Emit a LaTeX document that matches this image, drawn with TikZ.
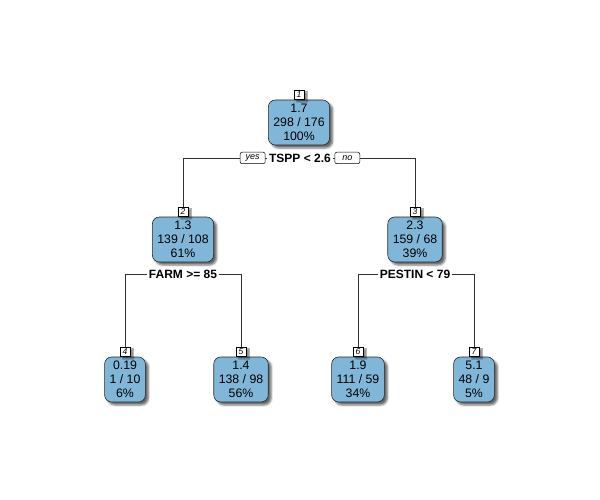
\documentclass[tikz,border=0pt]{standalone}
\usepackage{fontspec}
\setmainfont{Liberation Sans}
\usetikzlibrary{shadows.blur}
\definecolor{leafblue}{RGB}{128,183,217}
\tikzset{
  treenode/.style={draw=black!85, line width=0.6pt, fill=leafblue, rounded corners=7pt,
    minimum height=45pt, inner xsep=5pt, inner ysep=3pt, align=center,
    font=\fontsize{12.3}{13.8}\selectfont,
    blur shadow={shadow xshift=3pt, shadow yshift=-3pt, shadow blur radius=2pt, shadow opacity=60}},
  numbox/.style={draw=black, line width=0.5pt, fill=white, inner sep=0pt, minimum width=10.5pt,
    minimum height=9.5pt, font=\fontsize{8.5}{8.5}\itshape\selectfont, anchor=south,
    blur shadow={shadow xshift=3pt, shadow yshift=-2pt, shadow blur radius=1pt, shadow opacity=45}},
  splitlabel/.style={inner xsep=1.5pt, inner ysep=0pt, font=\fontsize{12}{12}\bfseries\selectfont},
  yesno/.style={draw=black, line width=0.5pt, fill=white, rounded corners=2pt, inner sep=0pt,
    minimum width=25pt, minimum height=11.5pt, font=\fontsize{9}{9}\itshape\selectfont},
  conn/.style={draw=black!80, line width=0.6pt}
}
\begin{document}
\begin{tikzpicture}[x=1pt,y=-1pt]
\useasboundingbox (0,0) rectangle (600,500);
% nodes
\node[treenode] (n1) at (299,122.5) {1.7\\298 / 176\\100\%};
\node[treenode] (n2) at (183,239.5) {1.3\\139 / 108\\61\%};
\node[treenode] (n3) at (415,239.5) {2.3\\159 / 68\\39\%};
\node[treenode] (n4) at (125,379.5) {0.19\\1 / 10\\6\%};
\node[treenode] (n5) at (241,379.5) {1.4\\138 / 98\\56\%};
\node[treenode] (n6) at (358,379.5) {1.9\\111 / 59\\34\%};
\node[treenode] (n7) at (474,379.5) {5.1\\48 / 9\\5\%};
% number boxes
\node[numbox] (l1) at (n1.north) {1};
\node[numbox] (l2) at (n2.north) {2};
\node[numbox] (l3) at (n3.north) {3};
\node[numbox] (l4) at (n4.north) {4};
\node[numbox] (l5) at (n5.north) {5};
\node[numbox] (l6) at (n6.north) {6};
\node[numbox] (l7) at (n7.north) {7};
% split labels
\node[splitlabel] (s1) at (300,158) {TSPP < 2.6};
\node[yesno, anchor=east] (yes) at ([xshift=-2pt]s1.west) {yes};
\node[yesno, anchor=west] (no) at ([xshift=2pt]s1.east) {no};
\node[splitlabel] (s2) at (183,274) {FARM >= 85};
\node[splitlabel] (s3) at (415,274) {PESTIN < 79};
% connectors
\draw[conn] (l2.north) |- (yes.west);
\draw[conn] (yes.east) -- (s1.west);
\draw[conn] (s1.east) -- (no.west);
\draw[conn] (no.east) -| (l3.north);
\draw[conn] (l4.north) |- (s2.west);
\draw[conn] (s2.east) -| (l5.north);
\draw[conn] (l6.north) |- (s3.west);
\draw[conn] (s3.east) -| (l7.north);
\end{tikzpicture}
\end{document}
